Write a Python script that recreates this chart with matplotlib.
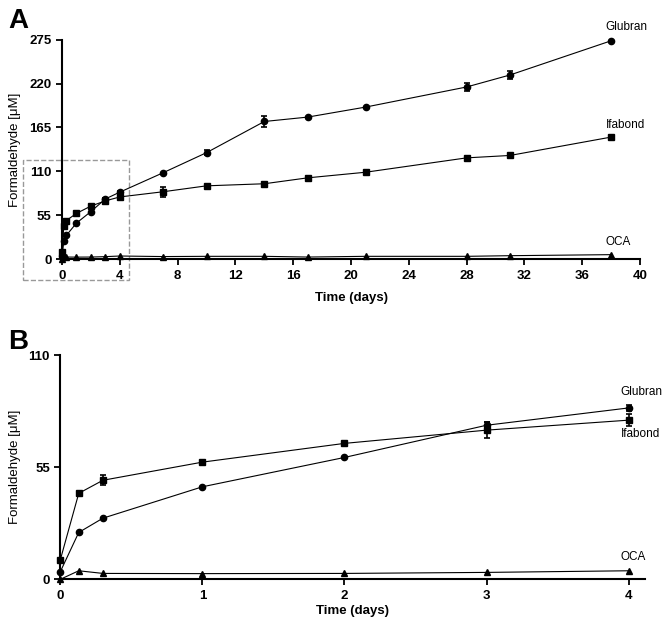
import matplotlib.pyplot as plt
from matplotlib.patches import Rectangle

plt.rcParams['font.family'] = ['Liberation Sans', 'DejaVu Sans']

# time points (days)
days = [0, 0.13, 0.3, 1, 2, 3, 4, 7, 10, 14, 17, 21, 28, 31, 38]

glubran = [3.7, 23, 30, 45.4, 59.8, 75.6, 84.1, 108.4, 133.5, 172.5, 178, 190.5, 215.7, 230.7, 273.5]
glubran_err = [0, 0, 0, 0, 0, 1.5, 1.5, 0, 3.3, 6.7, 0, 0, 5, 5.5, 0]

ifabond = [9.5, 42.2, 48.6, 57.5, 66.7, 73.2, 78.1, 84.6, 92, 94.6, 102, 109, 127, 130, 153]
ifabond_err = [0, 0, 2.5, 0, 0, 3.8, 3, 6.3, 0, 0, 0, 0, 0, 0, 0]

oca = [0, 4.2, 2.9, 2.8, 2.9, 3.4, 4.2, 3.5, 3.8, 3.8, 2.9, 3.8, 3.8, 4.6, 5.9]

series = [("Glubran", glubran, glubran_err, 'o'),
          ("Ifabond", ifabond, ifabond_err, 's'),
          ("OCA", oca, None, '^')]

fig = plt.figure(figsize=(6.66, 6.28), dpi=100)
axA = fig.add_axes([0.0931, 0.587, 0.868, 0.350])
axB = fig.add_axes([0.0905, 0.0775, 0.878, 0.357])


def draw(ax, n):
    for name, vals, err, mk in series:
        ax.errorbar(days[:n], vals[:n], yerr=None if err is None else err[:n],
                    color='black', lw=0.8, marker=mk, ms=4.5 if mk != 's' else 4,
                    capsize=2.5, elinewidth=1.2, capthick=1.2, clip_on=False, zorder=3)
    for s in ['top', 'right']:
        ax.spines[s].set_visible(False)
    for s in ['left', 'bottom']:
        ax.spines[s].set_linewidth(1.5)
    ax.tick_params(width=1.3, length=4, labelsize=9.5, direction='out')
    for lab in ax.get_xticklabels() + ax.get_yticklabels():
        lab.set_fontweight('bold')
    ax.set_ylabel('Formaldehyde [μM]', fontsize=9.5)
    ax.set_xlabel('Time (days)', fontsize=9.5, fontweight='bold')


# Panel A
axA.set_xlim(0, 40)
axA.set_ylim(0, 275)
axA.set_xticks(range(0, 41, 4))
axA.set_yticks([0, 55, 110, 165, 220, 275])
draw(axA, len(days))
axA.yaxis.set_label_coords(-0.071, 0.5)
axA.xaxis.set_label_coords(0.5, -0.15)
axA.text(37.6, 283, 'Glubran', fontsize=8.5, va='bottom')
axA.text(37.6, 160, 'Ifabond', fontsize=8.5, va='bottom')
axA.text(37.6, 14, 'OCA', fontsize=8.5, va='bottom')
axA.add_patch(Rectangle((-2.72, -26), 7.38, 150.7, fill=False, ls='--',
                        ec='#999999', lw=1.0, clip_on=False))
fig.text(0.012, 0.955, 'A', fontsize=20, fontweight='bold')

# Panel B
axB.set_xlim(0, 4.115)
axB.set_ylim(0, 110)
axB.set_xticks(range(0, 5))
axB.set_yticks([0, 55, 110])
draw(axB, 7)
axB.yaxis.set_label_coords(-0.067, 0.5)
axB.xaxis.set_label_coords(0.5, -0.115)
axB.text(3.944, 88.9, 'Glubran', fontsize=8.5, va='bottom')
axB.text(3.944, 68.3, 'Ifabond', fontsize=8.5, va='bottom')
axB.text(3.944, 7.8, 'OCA', fontsize=8.5, va='bottom')
fig.text(0.012, 0.445, 'B', fontsize=20, fontweight='bold')

fig.savefig('out.png', dpi=100)
